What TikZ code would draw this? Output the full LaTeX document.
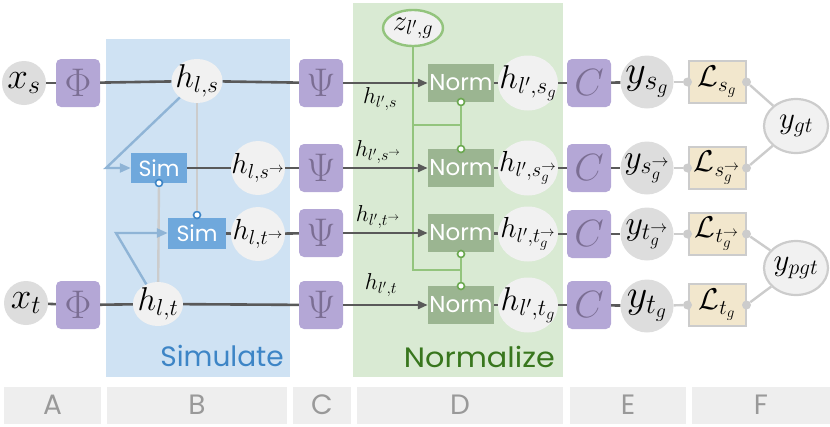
\RequirePackage{fix-cm}
\documentclass[tikz,border=0pt]{standalone}
\usepackage{amsmath}
\usepackage{fontspec}
\newfontfamily\geofont{Poppins}
\usetikzlibrary{shapes.geometric,arrows.meta}
\definecolor{grayA}{HTML}{DDDDDD}
\definecolor{hfill}{HTML}{F1F1F1}
\definecolor{purp}{HTML}{B4A7D6}
\definecolor{purptext}{HTML}{7B6E93}
\definecolor{simfill}{HTML}{6FA8DC}
\definecolor{blueregion}{HTML}{CFE2F3}
\definecolor{greenregion}{HTML}{D9EAD3}
\definecolor{normfill}{HTML}{9BB591}
\definecolor{greenline}{HTML}{93C47D}
\definecolor{greendot}{HTML}{6AA84F}
\definecolor{blueline}{HTML}{8FB4D6}
\definecolor{bluedot}{HTML}{3D85C6}
\definecolor{ltgray}{HTML}{CCCCCC}
\definecolor{dkgray}{HTML}{595959}
\definecolor{beige}{HTML}{F2E7CD}
\definecolor{barfill}{HTML}{EEEEEE}
\definecolor{bartext}{HTML}{999999}
\definecolor{simtext}{HTML}{3D85C6}
\definecolor{normtext}{HTML}{38761D}
\newcommand{\hfs}{\fontsize{33}{38}\selectfont}
\newcommand{\hafs}{\fontsize{29}{34}\selectfont}
\newcommand{\xfs}{\fontsize{37}{42}\selectfont}
\newcommand{\yfs}{\fontsize{40}{46}\selectfont}
\newcommand{\yafs}{\fontsize{34}{40}\selectfont}
\newcommand{\lfs}{\fontsize{30}{34}\selectfont}
\newcommand{\gtfs}{\fontsize{31}{36}\selectfont}
\newcommand{\boxfs}{\fontsize{40}{46}\selectfont}
\newcommand{\labfs}{\fontsize{23}{27}\selectfont}
\begin{document}
\begin{tikzpicture}[x=1pt,y=-1pt,
  dk/.style={draw=dkgray,line width=2.6pt},
  lg/.style={draw=ltgray,line width=2.4pt},
  bl/.style={draw=blueline,line width=2.4pt},
  gr/.style={draw=greenline,line width=2.4pt},
  dkarrow/.style={dk,-{Triangle[length=10pt,width=8pt]}},
  blarrow/.style={bl,-{Triangle[length=11pt,width=9pt]}},
  mtext/.style={label={[inner sep=0pt]center:{#1}}},
  xnode/.style={circle,fill=grayA,minimum size=44pt,inner sep=0pt},
  ynode/.style={circle,fill=grayA,minimum size=53pt,inner sep=0pt},
  hnode/.style={ellipse,fill=hfill,inner sep=0pt,minimum width=51pt,minimum height=44pt},
  hcirc/.style={circle,fill=hfill,inner sep=0pt,minimum size=54pt},
  honode/.style={ellipse,fill=hfill,inner sep=0pt,minimum width=60pt,minimum height=55pt},
  pbox/.style={rectangle,rounded corners=5pt,fill=purp,minimum width=44pt,minimum height=48pt,inner sep=0pt,text=purptext,font=\boxfs},
  simbox/.style={rectangle,fill=simfill,text=white,minimum width=56pt,minimum height=30pt,inner sep=0pt,font=\geofont\fontsize{22}{26}\selectfont},
  normbox/.style={rectangle,fill=normfill,text=white,minimum width=66pt,minimum height=38pt,inner sep=0pt,font=\geofont\fontsize{23}{26}\selectfont},
  lossbox/.style={rectangle,fill=beige,draw=ltgray,line width=2pt,minimum width=57pt,minimum height=42pt,inner sep=0pt},
  gtnode/.style={ellipse,fill=hfill,draw=ltgray,line width=2.2pt,minimum width=64pt,minimum height=54pt,inner sep=0pt},
  bdot/.style={circle,draw=bluedot,fill=white,line width=1.6pt,minimum size=7pt,inner sep=0pt},
  gdot/.style={circle,draw=greendot,fill=white,line width=1.6pt,minimum size=7pt,inner sep=0pt},
  ldot/.style={circle,fill=ltgray,minimum size=9pt,inner sep=0pt},
  bar/.style={rectangle,fill=barfill,inner sep=0pt,text=bartext,font=\geofont\fontsize{28}{32}\selectfont},
  lab/.style={font=\labfs,inner sep=0pt}
]
\useasboundingbox (0,0) rectangle (830,426);
% regions
\fill[blueregion] (106,39) rectangle (290,377);
\fill[greenregion] (353,3) rectangle (563,377);
\node[anchor=base east,text=simtext,font=\geofont\fontsize{28}{32}\selectfont,inner sep=0pt] (simlab) at (284,366) {Simulate};
\node[anchor=base east,text=normtext,font=\geofont\fontsize{28}{32}\selectfont,inner sep=0pt,xscale=1.08] (normlab) at (555,367) {Normalize};
% bottom bars
\node[bar,minimum width=97pt,minimum height=37pt] (barA) at (52.5,405) {A};
\node[bar,minimum width=180pt,minimum height=37pt] (barB) at (197,405) {B};
\node[bar,minimum width=58pt,minimum height=37pt] (barC) at (322,405) {C};
\node[bar,minimum width=206pt,minimum height=37pt] (barD) at (460,405) {D};
\node[bar,minimum width=116pt,minimum height=37pt] (barE) at (628,405) {E};
\node[bar,minimum width=138pt,minimum height=37pt] (barF) at (761,405) {F};
% column A
\node[xnode,mtext={\xfs$x_s$}] (xs) at (24,83) {};
\node[xnode,mtext={\xfs$x_t$}] (xt) at (26,303) {};
\node[pbox] (phi1) at (78,83) {$\Phi$};
\node[pbox] (phi2) at (78,305) {$\Phi$};
% column B
\node[hnode,mtext={\hfs$h_{l,s}$}] (hls) at (197,81) {};
\node[hnode,minimum width=50pt,mtext={\hfs$h_{l,t}$}] (hlt) at (158,304) {};
\node[simbox] (sim1) at (159,168) {Sim};
\node[simbox,minimum width=58pt,minimum height=31pt] (sim2) at (197,233) {Sim};
\node[hcirc,mtext={\hafs$h_{l,s^{\rightarrow}}$}] (hlsa) at (258,168) {};
\node[hcirc,mtext={\hafs$h_{l,t^{\rightarrow}}$}] (hlta) at (258,234) {};
\node[bdot] (d1) at (159,183) {};
\node[bdot] (d2) at (197,215) {};
% column C
\node[pbox] (psi1) at (321,83) {$\Psi$};
\node[pbox] (psi2) at (321,168) {$\Psi$};
\node[pbox] (psi3) at (321,233) {$\Psi$};
\node[pbox] (psi4) at (321,305) {$\Psi$};
% column D
\node[ellipse,fill=hfill,draw=greenline,line width=2.4pt,minimum width=60pt,minimum height=36pt,inner sep=0pt,mtext={\fontsize{29}{33}\selectfont$z_{l',g}$}] (z) at (413,28) {};
\node[normbox] (n1) at (461,83) {Norm};
\node[normbox] (n2) at (461,168) {Norm};
\node[normbox] (n3) at (461,233) {Norm};
\node[normbox] (n4) at (461,305) {Norm};
\node[gdot] (g1) at (461,102) {};
\node[gdot] (g2) at (461,149) {};
\node[gdot] (g3) at (461,254) {};
\node[gdot] (g4) at (461,286) {};
\coordinate (zb1) at (413,125);
\coordinate (zb2) at (413,270);
\coordinate (gb1) at (461,125);
\coordinate (gb2) at (461,270);
\node[honode,mtext={\hfs$h_{l',s_g}$}] (ho1) at (528,83) {};
\node[honode,mtext={\hafs$h_{l',s_g^{\rightarrow}}$}] (ho2) at (528,168) {};
\node[honode,mtext={\hafs$h_{l',t_g^{\rightarrow}}$}] (ho3) at (528,234) {};
\node[honode,mtext={\hfs$h_{l',t_g}$}] (ho4) at (528,305) {};
% column E
\node[pbox,font=\fontsize{38}{44}\selectfont] (c1) at (589,83) {$C$};
\node[pbox,font=\fontsize{38}{44}\selectfont] (c2) at (589,168) {$C$};
\node[pbox,font=\fontsize{38}{44}\selectfont] (c3) at (589,234) {$C$};
\node[pbox,font=\fontsize{38}{44}\selectfont] (c4) at (589,305) {$C$};
\node[ynode,mtext={\yfs$y_{s_g}$}] (y1) at (647,82) {};
\node[ynode,mtext={\yafs$y_{s_g^{\rightarrow}}$}] (y2) at (647,168) {};
\node[ynode,mtext={\yafs$y_{t_g^{\rightarrow}}$}] (y3) at (647,234) {};
\node[ynode,mtext={\yfs$y_{t_g}$}] (y4) at (647,306) {};
% column F
\node[lossbox,mtext={\lfs$\mathcal{L}_{s_g}$}] (L1) at (717,82) {};
\node[lossbox,mtext={\lfs$\mathcal{L}_{s_g^{\rightarrow}}$}] (L2) at (717,168) {};
\node[lossbox,mtext={\lfs$\mathcal{L}_{t_g^{\rightarrow}}$}] (L3) at (717,234) {};
\node[lossbox,mtext={\lfs$\mathcal{L}_{t_g}$}] (L4) at (717,305) {};
\node[gtnode,mtext={\gtfs$y_{gt}$}] (ygt) at (796,126) {};
\node[gtnode,mtext={\gtfs$y_{pgt}$}] (ypgt) at (796,268) {};
% green normalisation wiring
\draw[gr] (z) -- (zb2) -- (gb2);
\draw[gr] (zb1) -- (gb1);
\draw[gr] (g1) -- (g2);
\draw[gr] (g3) -- (g4);
% gray and blue wiring in B
\draw[lg] (hls) -- (d2);
\draw[lg] (hlt) -- (d1);
\draw[blarrow] (hls) -- (106,168) -- (sim1.west);
\draw[blarrow] (hlt) -- (116,233) -- (sim2.west);
% dark main lines
\draw[dk] (xs) -- (phi1);
\draw[dk] (phi1) -- (hls);
\draw[dk] (hls) -- (psi1);
\draw[dk] (xt) -- (phi2);
\draw[dk] (phi2) -- (hlt);
\draw[dk] (hlt) -- (psi4);
\draw[dk] (sim1) -- (hlsa);
\draw[dk] (hlsa) -- (psi2);
\draw[dk] (sim2) -- (hlta);
\draw[dk] (hlta) -- (psi3);
\draw[dkarrow] (psi1) -- (n1);
\draw[dkarrow] (psi2) -- (n2);
\draw[dkarrow] (psi3) -- (n3);
\draw[dkarrow] (psi4) -- (n4);
\foreach \i in {1,2,3,4}{
  \draw[dk] (n\i) -- (ho\i);
  \draw[dk] (ho\i) -- (c\i);
  \draw[dk] (c\i) -- (y\i);
  \node[ldot] (la\i) at (L\i.west) {};
  \node[ldot] (lb\i) at (L\i.east) {};
  \draw[lg] (y\i) -- (la\i);
}
\draw[lg] (lb1) -- (ygt);
\draw[lg] (lb2) -- (ygt);
\draw[lg] (lb3) -- (ypgt);
\draw[lg] (lb4) -- (ypgt);
% edge labels
\node[lab] (lab1) at (380,99) {$h_{l',s}$};
\node[lab] (lab2) at (378,152) {$h_{l',s^{\rightarrow}}$};
\node[lab] (lab3) at (378,217) {$h_{l',t^{\rightarrow}}$};
\node[lab] (lab4) at (381,285) {$h_{l',t}$};
\end{tikzpicture}
\end{document}
